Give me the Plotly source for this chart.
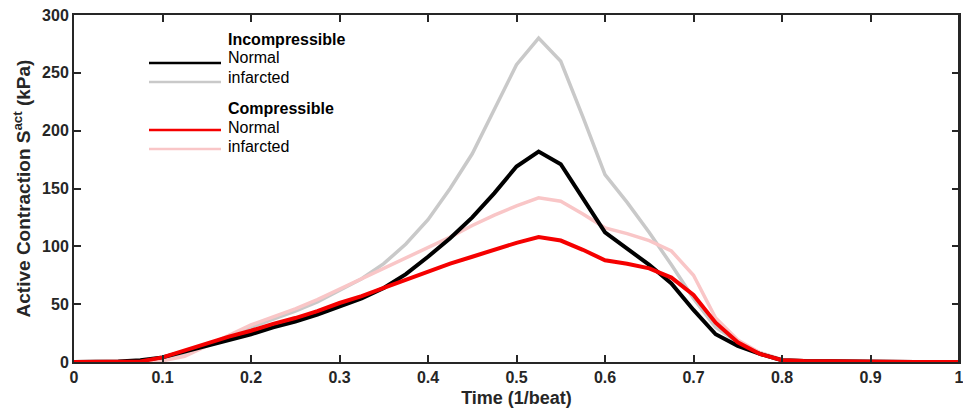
import plotly.graph_objects as go

time = [0, 0.025, 0.05, 0.075, 0.1, 0.125, 0.15, 0.175, 0.2, 0.225, 0.25, 0.275,
        0.3, 0.325, 0.35, 0.375, 0.4, 0.425, 0.45, 0.475, 0.5, 0.525, 0.55, 0.575,
        0.6, 0.625, 0.65, 0.675, 0.7, 0.725, 0.75, 0.775, 0.8, 0.825, 0.85, 0.875,
        0.9, 0.925, 0.95, 0.975, 1.0]

incomp_normal = [0, 0.2, 0.5, 1.5, 4, 9, 14, 19, 24, 30, 35, 41,
                 48, 55, 64, 76, 91, 107, 125, 146, 169, 182, 171, 142,
                 112, 98, 84, 68, 45, 24, 14, 7, 1.5, 0.8, 0.5, 0.3,
                 0.2, 0.1, 0.1, 0, 0]

incomp_infarcted = [0, 0, 0, 0.3, 3, 8, 15, 22, 30, 37, 44, 52,
                     62, 72, 85, 102, 123, 150, 180, 218, 257, 280, 260, 212,
                     162, 138, 112, 84, 55, 30, 17, 8, 2, 1, 0.5, 0.3,
                     0.2, 0.1, 0.1, 0, 0]

comp_normal = [0, 0, 0, 0.5, 4, 10, 16, 22, 27, 33, 38, 44,
               51, 57, 64, 71, 78, 85, 91, 97, 103, 108, 105, 97,
               88, 85, 81, 73, 58, 34, 17, 7, 1.5, 0.8, 0.5, 0.3,
               0.2, 0.1, 0.1, 0, 0]

comp_infarcted = [0, 0, 0, 0, 1, 5, 14, 23, 32, 39, 46, 54,
                  63, 72, 81, 90, 99, 108, 118, 127, 135, 142, 139, 128,
                  116, 111, 105, 96, 75, 38, 19, 8, 2, 1, 0.5, 0.3,
                  0.2, 0.1, 0.1, 0, 0]

x_ticks = [0, 0.1, 0.2, 0.3, 0.4, 0.5, 0.6, 0.7, 0.8, 0.9, 1]
y_ticks = [0, 50, 100, 150, 200, 250, 300]

BLACK = "#000000"
GRAY = "rgb(201,201,201)"
RED = "rgb(245,0,0)"
PINK = "rgb(249,198,199)"
AX = "#262626"
FONT = "Liberation Sans, Arial, sans-serif"

fig = go.Figure()
fig.add_trace(go.Scatter(x=time, y=incomp_infarcted, mode="lines",
                         line=dict(color=GRAY, width=3.5), name="Incompressible infarcted"))
fig.add_trace(go.Scatter(x=time, y=comp_infarcted, mode="lines",
                         line=dict(color=PINK, width=3.5), name="Compressible infarcted"))
fig.add_trace(go.Scatter(x=time, y=incomp_normal, mode="lines",
                         line=dict(color=BLACK, width=4), name="Incompressible Normal"))
fig.add_trace(go.Scatter(x=time, y=comp_normal, mode="lines",
                         line=dict(color=RED, width=4), name="Compressible Normal"))

L, R, T, B = 74, 4, 15, 53
W, H = 963, 415
pw, ph = W - L - R, H - T - B


def px(xp):
    return (xp - L) / pw


def py(yp):
    return (H - B - yp) / ph


shapes = []
annotations = []
legend_items = [
    ("Incompressible", True, None, 39),
    ("Normal", False, BLACK, 58),
    ("infarcted", False, GRAY, 77),
    ("Compressible", True, None, 108),
    ("Normal", False, RED, 127),
    ("infarcted", False, PINK, 146),
]
line_y = {58: 63, 77: 82, 127: 130, 146: 149}
for text, bold, color, yc in legend_items:
    annotations.append(dict(
        x=px(226), y=py(yc), xref="paper", yref="paper", xanchor="left", yanchor="middle",
        text=f"<b>{text}</b>" if bold else text, showarrow=False,
        font=dict(family=FONT, size=16, color="#000000")))
    if color is not None:
        ly = line_y[yc]
        shapes.append(dict(type="line", xref="paper", yref="paper",
                           x0=px(149), x1=px(221), y0=py(ly), y1=py(ly),
                           line=dict(color=color, width=2.5)))

# right frame line (y-axis mirror) drawn explicitly as well
shapes.append(dict(type="line", xref="paper", yref="paper", x0=1, x1=1, y0=0, y1=1,
                   line=dict(color=AX, width=2)))

fig.update_layout(
    width=W, height=H,
    margin=dict(l=L, r=R, t=T, b=B, autoexpand=False),
    plot_bgcolor="white", paper_bgcolor="white",
    showlegend=False,
    font=dict(family=FONT, color=AX),
    shapes=shapes, annotations=annotations,
)
fig.update_xaxes(
    range=[0, 1], tickvals=x_ticks, ticktext=[f"{v:g}" for v in x_ticks],
    showline=True, linecolor=AX, linewidth=2, mirror="ticks",
    ticks="inside", ticklen=7, tickwidth=2, tickcolor=AX,
    showgrid=False, zeroline=False, automargin=False,
    ticklabeloverflow="allow",
    tickfont=dict(family=FONT, size=16, color=AX, weight="bold"),
    title=dict(text="<b>Time (1/beat)</b>", font=dict(family=FONT, size=18, color=AX), standoff=6),
)
fig.update_yaxes(
    range=[0, 300], tickvals=y_ticks,
    showline=True, linecolor=AX, linewidth=2, mirror="ticks",
    ticks="inside", ticklen=7, tickwidth=2, tickcolor=AX,
    showgrid=False, zeroline=False, automargin=False,
    tickfont=dict(family=FONT, size=16, color=AX, weight="bold"),
    title=dict(text="<b>Active Contraction S<sup>act</sup> (kPa)</b>",
               font=dict(family=FONT, size=19, color=AX), standoff=6),
)

fig.write_html(
    "out.html",
    config={"displayModeBar": False},
    post_script="document.body.style.margin='0';document.body.style.overflow='hidden';",
)
